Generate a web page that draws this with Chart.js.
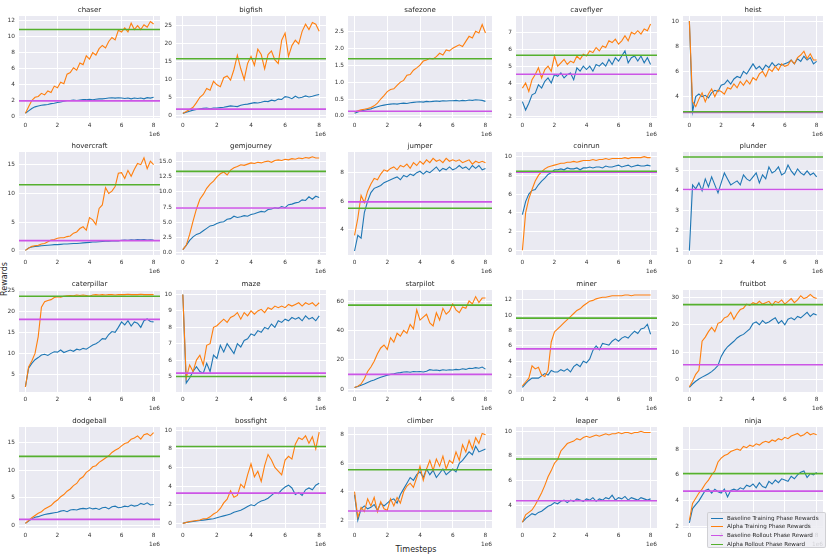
<!DOCTYPE html>
<html>
<head>
<meta charset="utf-8">
<script src="https://cdn.jsdelivr.net/npm/chart.js@4.4.0/dist/chart.umd.min.js"></script>
<style>
  html, body { margin: 0; padding: 0; background: #fff; }
  #fig { position: relative; width: 830px; height: 554px; overflow: hidden; font-family: 'DejaVu Sans', sans-serif; }
  .panel { position: absolute; }
  .axlabel { position: absolute; font-size: 8px; color: #262626; white-space: nowrap; }
  #ylab { left: 4px; top: 279px; transform: translate(-50%, -50%) rotate(-90deg); }
  #xlab { left: 416px; top: 549px; transform: translate(-50%, -50%); }
  #legend {
    position: absolute; left: 707px; top: 512px; width: 119px; height: 36px;
    background: rgba(236, 236, 242, 0.85); border: 1px solid rgba(205, 205, 210, 0.9);
    border-radius: 2px; box-sizing: border-box; padding-top: 0.5px; z-index: 10;
  }
  #legend .item { position: relative; height: 8.8px; line-height: 8.8px; font-size: 5.6px; color: #262626; white-space: nowrap; padding-left: 19px; }
  #legend .sw { position: absolute; left: 3px; top: 4px; width: 12px; height: 0; border-top-width: 1.5px; border-top-style: solid; }
</style>
</head>
<body>
<div id="fig">
  <div id="ylab" class="axlabel">Rewards</div>
  <div id="xlab" class="axlabel">Timesteps</div>
  <div id="legend">
    <div class="item"><span class="sw" style="border-top-color:#1f77b4"></span>Baseline Training Phase Rewards</div>
    <div class="item"><span class="sw" style="border-top-color:#ff7f0e"></span>Alpha Training Phase Rewards</div>
    <div class="item"><span class="sw" style="border-top-color:#cc55e6"></span>Baseline Rollout Phase Reward</div>
    <div class="item"><span class="sw" style="border-top-color:#55b02e"></span>Alpha Rollout Phase Reward</div>
  </div>
</div>
<script>
// timesteps in units of 1e6
const timesteps = [0, 0.2, 0.4, 0.6, 0.8, 1, 1.2, 1.4, 1.6, 1.8, 2, 2.2, 2.4, 2.6, 2.8, 3, 3.2, 3.4, 3.6, 3.8,
  4, 4.2, 4.4, 4.6, 4.8, 5, 5.2, 5.4, 5.6, 5.8, 6, 6.2, 6.4, 6.6, 6.8, 7, 7.2, 7.4, 7.6, 7.8, 8]
const xTickLabels = ['0', '2', '4', '6', '8']

const games = ['chaser', 'bigfish', 'safezone', 'caveflyer', 'heist',
  'hovercraft', 'gemjourney', 'jumper', 'coinrun', 'plunder',
  'caterpillar', 'maze', 'starpilot', 'miner', 'fruitbot',
  'dodgeball', 'bossfight', 'climber', 'leaper', 'ninja']

const chaserBase = [0.4, 0.7, 1.0, 1.2, 1.3, 1.4, 1.45, 1.5, 1.6, 1.65, 1.75, 1.8, 1.9, 2.0, 2.0, 2.05, 2.0, 2.05, 2.1, 2.1,
  2.15, 2.1, 2.15, 2.2, 2.2, 2.25, 2.3, 2.35, 2.3, 2.35, 2.3, 2.25, 2.3, 2.2, 2.3, 2.25, 2.3, 2.2, 2.35, 2.3, 2.4]
const chaserAlpha = [0.4, 1.2, 2.0, 2.4, 2.5, 2.9, 2.7, 3.2, 3.0, 3.8, 3.6, 4.3, 4.1, 5.3, 5.5, 6.1, 5.8, 6.7, 6.5, 7.6,
  7.2, 8.0, 7.7, 8.5, 8.9, 8.6, 9.4, 9.9, 9.6, 10.8, 10.6, 11.1, 10.6, 11.7, 10.9, 11.4, 10.9, 11.5, 11.2, 11.9, 11.6]

const bigfishBase = [0.5, 0.8, 1.1, 1.4, 1.6, 1.8, 1.9, 2.0, 1.8, 2.0, 2.0, 2.1, 2.2, 2.4, 2.6, 2.5, 2.4, 2.8, 3.0, 3.1,
  3.3, 3.5, 3.4, 3.6, 3.9, 3.8, 4.2, 4.0, 4.5, 4.4, 5.2, 5.0, 4.6, 5.3, 4.8, 5.0, 5.4, 5.1, 5.3, 5.6, 5.8]
const bigfishAlpha = [0.5, 1.0, 1.6, 2.2, 3.5, 5.0, 5.8, 7.5, 7.0, 9.5, 8.5, 8.0, 10.5, 11.0, 9.8, 12.8, 16.8, 13.0, 10.0, 14.5,
  16.5, 14.0, 18.5, 17.0, 13.0, 17.0, 18.0, 15.5, 14.5, 21.0, 23.0, 16.5, 19.5, 21.0, 20.0, 23.5, 25.5, 24.0, 26.0, 25.5, 23.5]

const safezoneBase = [0.08, 0.12, 0.15, 0.17, 0.19, 0.21, 0.24, 0.27, 0.3, 0.32, 0.34, 0.35, 0.36, 0.35, 0.37, 0.38, 0.37, 0.39, 0.4, 0.41,
  0.42, 0.41, 0.43, 0.42, 0.43, 0.44, 0.43, 0.45, 0.44, 0.45, 0.45, 0.46, 0.44, 0.46, 0.45, 0.47, 0.46, 0.48, 0.47, 0.46, 0.43]
const safezoneAlpha = [0.12, 0.15, 0.18, 0.2, 0.22, 0.25, 0.3, 0.38, 0.5, 0.6, 0.72, 0.78, 0.8, 0.9, 1.0, 1.05, 1.2, 1.22, 1.35, 1.42,
  1.5, 1.62, 1.65, 1.7, 1.68, 1.75, 1.85, 1.8, 1.95, 1.92, 2.0, 2.05, 2.1, 2.05, 2.2, 2.35, 2.3, 2.5, 2.45, 2.7, 2.45]

const caveflyerBase = [2.9, 2.4, 2.8, 3.3, 3.4, 3.9, 3.7, 4.1, 4.3, 4.0, 4.5, 4.4, 4.6, 4.3, 4.5, 4.6, 4.2, 4.9, 4.7, 5.0,
  4.8, 5.0, 4.7, 5.1, 5.0, 5.2, 5.0, 5.4, 5.1, 5.5, 5.3, 5.6, 5.9, 5.2, 5.5, 5.6, 5.3, 5.6, 5.2, 5.5, 5.1]
const caveflyerAlpha = [3.7, 4.0, 3.5, 4.2, 4.5, 4.9, 4.3, 4.8, 5.0, 4.7, 5.6, 5.0, 5.2, 5.4, 5.1, 5.3, 5.2, 5.6, 5.4, 5.7,
  5.6, 5.9, 5.8, 6.1, 5.9, 6.2, 6.1, 6.5, 6.4, 6.6, 6.3, 6.5, 6.8, 6.5, 7.0, 6.9, 7.1, 6.9, 7.2, 7.1, 7.5]

const heistBase = [10, 2.8, 4.0, 4.2, 4.0, 4.1, 3.9, 4.3, 4.5, 4.4, 4.9, 5.0, 5.3, 5.0, 5.4, 5.6, 5.5, 6.0, 5.8, 6.2,
  6.6, 6.2, 6.4, 6.1, 6.5, 6.3, 6.7, 6.4, 6.6, 6.5, 6.6, 6.7, 6.9, 6.6, 7.0, 6.8, 7.2, 6.9, 7.1, 6.6, 6.8]
const heistAlpha = [10, 3.6, 3.2, 3.8, 4.3, 3.6, 4.2, 4.6, 4.0, 4.5, 4.4, 4.2, 4.7, 4.6, 5.0, 4.7, 5.2, 4.9, 5.3, 5.0,
  5.5, 5.3, 5.8, 6.0, 5.6, 6.2, 6.0, 6.4, 6.1, 6.6, 6.4, 6.5, 6.9, 6.6, 7.1, 7.3, 7.6, 7.0, 7.4, 6.9, 6.9]

const hovercraftBase = [0.1, 0.5, 0.7, 0.8, 0.85, 0.9, 0.95, 1.0, 1.05, 1.1, 1.1, 1.15, 1.2, 1.2, 1.25, 1.3, 1.3, 1.35, 1.4, 1.45,
  1.5, 1.55, 1.55, 1.6, 1.65, 1.7, 1.7, 1.75, 1.8, 1.75, 1.85, 1.9, 1.85, 1.95, 1.9, 2.0, 1.95, 2.0, 1.9, 1.95, 1.9]
const hovercraftAlpha = [0.1, 0.5, 0.8, 0.9, 1.0, 1.2, 1.3, 1.6, 1.9, 2.0, 2.2, 2.3, 2.3, 2.5, 2.6, 3.1, 3.3, 3.9, 4.2, 3.6,
  5.8, 5.4, 4.6, 7.4, 8.0, 11.0, 10.0, 10.4, 11.2, 13.5, 13.6, 12.6, 14.0, 13.0, 14.2, 15.2, 15.0, 16.2, 14.3, 15.6, 15.0]

const gemjourneyBase = [0.5, 1.2, 2.0, 2.6, 3.0, 3.2, 3.6, 4.0, 4.4, 4.5, 4.8, 5.0, 5.1, 5.5, 5.6, 6.0, 5.8, 5.9, 6.1, 6.0,
  6.3, 6.4, 6.6, 6.8, 6.7, 7.1, 7.2, 7.4, 7.3, 7.6, 7.4, 7.9, 8.0, 8.2, 8.3, 8.7, 8.6, 9.2, 8.8, 9.3, 9.1]
const gemjourneyAlpha = [0.5, 1.2, 3.0, 5.2, 7.2, 8.8, 9.6, 10.6, 11.3, 11.8, 12.5, 13.0, 13.3, 12.8, 13.6, 14.0, 14.2, 14.5, 14.4, 14.6,
  14.8, 14.7, 14.9, 14.8, 15.0, 15.1, 14.9, 15.2, 15.3, 15.2, 15.4, 15.3, 15.5, 15.4, 15.6, 15.5, 15.7, 15.6, 15.8, 15.6, 15.6]

const jumperBase = [2.5, 3.6, 3.4, 5.2, 6.0, 6.6, 6.9, 7.0, 7.1, 7.3, 7.4, 7.5, 7.6, 7.7, 7.5, 7.8, 7.7, 7.9, 7.8, 8.0,
  8.1, 7.9, 8.1, 8.0, 8.2, 8.4, 8.1, 8.3, 8.2, 8.4, 8.2, 8.3, 8.5, 8.3, 8.4, 8.2, 8.5, 8.3, 8.5, 8.2, 8.3]
const jumperAlpha = [3.6, 4.8, 6.4, 5.9, 6.7, 7.2, 7.6, 7.5, 7.9, 8.2, 8.1, 8.3, 8.4, 8.2, 8.5, 8.4, 8.6, 8.3, 8.7, 8.5,
  8.8, 8.6, 8.9, 8.7, 9.0, 8.8, 8.9, 8.7, 9.0, 8.8, 8.9, 8.8, 8.9, 8.7, 8.8, 8.9, 8.6, 8.8, 8.7, 8.8, 8.7]

const coinrunBase = [3.8, 5.2, 6.0, 6.4, 6.5, 7.0, 7.4, 7.7, 8.1, 8.3, 8.6, 8.6, 8.7, 8.6, 8.8, 8.7, 8.7, 8.8, 8.6, 8.8,
  8.8, 8.9, 8.8, 8.9, 8.9, 8.8, 9.0, 8.9, 8.9, 9.0, 9.1, 8.9, 9.0, 9.1, 8.9, 9.0, 9.1, 9.0, 9.0, 9.1, 9.0]
const coinrunAlpha = [0, 4.0, 5.5, 6.5, 7.4, 8.0, 8.4, 8.7, 8.9, 9.0, 9.1, 9.2, 9.3, 9.3, 9.4, 9.4, 9.5, 9.4, 9.5, 9.6,
  9.6, 9.6, 9.7, 9.6, 9.7, 9.7, 9.8, 9.7, 9.8, 9.8, 9.8, 9.8, 9.9, 9.8, 9.9, 9.9, 9.9, 9.9, 10.0, 9.9, 9.9]

const plunderBase = [1.0, 4.3, 4.1, 4.4, 4.0, 4.6, 4.2, 4.7, 4.3, 3.9, 4.4, 4.9, 4.6, 4.3, 4.4, 4.5, 4.3, 4.8, 4.6, 4.5,
  4.7, 4.9, 4.4, 4.8, 4.6, 5.2, 4.9, 5.0, 5.2, 4.8, 4.9, 5.3, 5.0, 4.8, 5.1, 4.9, 4.8, 5.0, 4.8, 4.9, 4.7]
const plunderAlpha = []

const caterpillarBase = [2.0, 6.5, 7.6, 8.5, 9.0, 9.6, 9.8, 9.5, 10.0, 10.4, 10.3, 10.8, 10.2, 10.5, 10.8, 10.5, 11.0, 10.8, 11.2, 11.0,
  11.5, 12.0, 12.3, 12.8, 13.5, 13.4, 14.5, 15.2, 15.0, 16.2, 17.5, 16.8, 17.8, 16.5, 17.5, 17.2, 16.2, 17.8, 18.2, 17.6, 17.5]
const caterpillarAlpha = [2.0, 6.8, 8.2, 10.0, 14.0, 21.0, 22.3, 22.6, 22.8, 23.3, 23.5, 23.4, 23.6, 23.7, 23.8, 23.7, 23.9, 23.8, 23.9, 23.8,
  23.6, 23.9, 24.0, 23.9, 24.0, 23.9, 24.0, 24.0, 23.9, 24.0, 24.0, 24.0, 24.1, 24.0, 24.0, 24.0, 24.1, 24.0, 24.0, 24.0, 24.0]

const mazeBase = [10.0, 4.6, 4.9, 5.3, 5.6, 5.3, 5.2, 5.8, 5.3, 6.3, 6.1, 6.9, 6.5, 7.0, 6.7, 6.4, 7.0, 6.8, 7.2, 7.3,
  7.6, 7.5, 7.8, 7.7, 8.0, 7.9, 8.2, 8.0, 8.4, 8.3, 8.5, 8.4, 8.6, 8.5, 8.6, 8.4, 8.7, 8.5, 8.6, 8.4, 8.7]
const mazeAlpha = [10.0, 4.9, 5.7, 5.3, 6.0, 6.3, 5.7, 6.9, 7.0, 8.0, 8.1, 8.3, 8.5, 8.3, 8.6, 8.7, 8.9, 8.5, 8.9, 8.7,
  9.0, 8.8, 9.0, 9.1, 8.9, 9.2, 9.1, 9.3, 9.2, 9.3, 9.2, 9.4, 9.3, 9.4, 9.5, 9.3, 9.5, 9.4, 9.5, 9.3, 9.5]

const starpilotBase = [1.0, 1.8, 2.6, 3.5, 4.5, 5.5, 6.2, 7.2, 8.0, 8.8, 9.5, 10.0, 10.4, 11.0, 11.2, 11.6, 11.8, 11.5, 12.0, 11.8,
  12.0, 11.6, 12.2, 13.2, 12.8, 13.0, 12.6, 13.2, 12.8, 13.2, 13.0, 13.4, 13.2, 13.8, 13.4, 14.2, 14.0, 14.6, 14.2, 15.0, 13.6]
const starpilotAlpha = [1.0, 2.0, 3.5, 7.0, 12.0, 15.0, 19.0, 24.0, 28.0, 30.0, 27.0, 35.0, 32.0, 38.0, 36.0, 40.0, 38.0, 44.0, 41.0, 54.0,
  47.0, 49.0, 51.0, 45.0, 43.0, 52.0, 47.0, 55.0, 51.0, 53.0, 58.0, 54.0, 52.0, 56.0, 55.0, 60.0, 58.0, 63.0, 59.0, 62.0, 62.0]

const minerBase = [0.6, 1.1, 1.5, 1.8, 1.8, 1.8, 2.1, 2.4, 2.2, 2.8, 2.6, 2.6, 2.9, 2.7, 3.0, 2.6, 3.3, 3.6, 3.3, 4.0,
  3.8, 4.3, 5.4, 6.0, 5.5, 6.3, 6.2, 6.1, 6.6, 6.9, 6.6, 7.0, 7.2, 7.0, 7.5, 7.9, 7.6, 8.2, 8.3, 8.8, 7.5]
const minerAlpha = [0.8, 1.3, 1.8, 3.4, 3.0, 3.2, 2.2, 2.0, 2.8, 6.5, 7.8, 8.2, 8.6, 9.0, 9.4, 9.8, 10.2, 10.6, 10.8, 11.2,
  11.5, 11.8, 11.9, 12.1, 12.2, 12.3, 12.3, 12.4, 12.5, 12.5, 12.5, 12.5, 12.6, 12.6, 12.5, 12.6, 12.6, 12.6, 12.6, 12.6, 12.6]

const fruitbotBase = [-2.7, -1.5, -0.5, 0.3, 1.0, 1.6, 2.2, 3.0, 4.0, 5.2, 8.5, 10.5, 12.0, 13.0, 14.0, 15.2, 16.0, 16.5, 17.5, 18.5,
  20.5, 21.0, 20.0, 21.5, 20.5, 21.0, 21.8, 22.5, 20.5, 21.5, 20.0, 22.0, 22.5, 21.8, 23.0, 22.5, 23.5, 24.5, 23.0, 24.0, 23.5]
const fruitbotAlpha = [-2.5, -0.5, 2.0, 3.5, 14.0, 15.5, 17.5, 19.0, 17.5, 20.5, 21.0, 22.5, 23.0, 24.5, 22.0, 24.0, 25.5, 26.0, 27.5, 27.0,
  28.0, 27.5, 28.5, 27.5, 28.0, 28.5, 27.0, 28.5, 28.0, 29.0, 27.5, 28.5, 29.5, 28.0, 29.0, 30.5, 29.5, 30.0, 31.0, 30.0, 29.5]

const dodgeballBase = [0.4, 0.8, 1.2, 1.5, 1.6, 1.8, 2.0, 2.1, 2.2, 2.3, 2.4, 2.6, 2.7, 2.5, 2.8, 2.9, 2.8, 3.0, 3.1, 3.0,
  3.2, 3.0, 3.1, 2.9, 3.2, 3.3, 3.0, 3.4, 3.5, 3.2, 3.3, 3.5, 3.4, 3.7, 3.5, 3.6, 4.0, 3.8, 4.1, 3.7, 3.8]
const dodgeballAlpha = [0.4, 0.9, 1.4, 1.8, 2.2, 2.5, 3.0, 3.3, 3.6, 4.2, 4.6, 5.2, 5.6, 6.2, 6.6, 7.2, 7.6, 8.4, 8.8, 9.6,
  10.0, 10.6, 10.8, 11.4, 11.8, 12.2, 12.6, 13.2, 13.6, 13.9, 14.4, 14.8, 15.0, 15.6, 15.8, 16.2, 15.6, 16.4, 16.6, 16.2, 16.8]

const bossfightBase = [0.0, 0.1, 0.15, 0.2, 0.25, 0.3, 0.35, 0.4, 0.45, 0.5, 0.6, 0.7, 0.8, 0.9, 1.0, 1.2, 1.3, 1.4, 1.6, 1.8,
  2.0, 1.9, 2.2, 2.4, 2.5, 2.7, 3.0, 3.3, 3.2, 3.6, 3.9, 4.1, 3.8, 3.1, 3.3, 3.0, 3.6, 3.8, 3.6, 4.1, 4.3]
const bossfightAlpha = [0.0, 0.1, 0.2, 0.25, 0.3, 0.35, 0.5, 0.5, 0.7, 1.0, 1.2, 1.6, 2.2, 2.6, 3.5, 2.8, 3.0, 4.2, 3.8, 5.2,
  6.4, 5.0, 5.6, 4.5, 6.2, 7.4, 6.8, 6.0, 5.6, 5.2, 6.8, 7.2, 6.9, 8.5, 9.2, 9.0, 9.4, 8.6, 9.3, 8.0, 9.8]

const climberBase = [3.8, 2.0, 2.8, 3.0, 2.8, 2.9, 3.1, 2.7, 3.2, 3.0, 3.2, 3.4, 3.5, 3.2, 3.8, 4.2, 4.6, 5.0, 4.8, 5.2,
  5.4, 5.0, 5.6, 5.2, 5.5, 5.0, 5.3, 5.6, 5.2, 5.4, 5.6, 5.4, 6.0, 6.2, 6.5, 6.8, 6.6, 7.2, 6.8, 6.9, 7.0]
const climberAlpha = [4.0, 2.2, 2.9, 2.6, 3.5, 3.0, 3.6, 2.6, 3.3, 2.8, 2.7, 3.5, 3.0, 3.6, 3.2, 4.0, 4.4, 4.6, 4.3, 5.0,
  5.8, 4.8, 5.6, 6.2, 5.5, 6.3, 5.8, 6.5, 5.6, 6.2, 6.0, 6.8, 6.2, 7.3, 6.8, 7.6, 7.0, 7.8, 7.4, 8.1, 8.0]

const leaperBase = [2.6, 2.9, 3.1, 3.3, 3.2, 3.4, 3.5, 3.7, 3.9, 4.0, 4.2, 4.1, 4.3, 4.4, 4.2, 4.4, 4.3, 4.5, 4.4, 4.3,
  4.5, 4.4, 4.6, 4.3, 4.5, 4.4, 4.6, 4.5, 4.8, 4.4, 4.6, 4.5, 4.7, 4.4, 4.6, 4.5, 4.4, 4.6, 4.5, 4.4, 4.5]
const leaperAlpha = [2.6, 3.2, 3.4, 3.6, 4.0, 4.5, 5.0, 5.6, 6.3, 6.8, 7.4, 7.7, 8.4, 8.7, 9.0, 9.1, 9.2, 9.4, 9.3, 9.5,
  9.6, 9.5, 9.6, 9.7, 9.6, 9.7, 9.8, 9.7, 9.8, 9.8, 9.9, 9.8, 9.9, 9.9, 9.8, 9.9, 9.9, 10.0, 9.9, 9.9, 9.9]

const ninjaBase = [2.3, 3.4, 3.7, 4.0, 4.4, 4.8, 4.9, 4.6, 4.9, 4.7, 4.6, 4.9, 4.3, 4.8, 4.9, 4.8, 5.0, 4.9, 5.2, 5.1,
  5.3, 5.0, 5.4, 5.1, 5.0, 5.5, 5.3, 5.6, 5.4, 5.7, 5.6, 5.5, 5.9, 5.7, 6.0, 6.2, 6.3, 5.8, 6.1, 6.0, 6.2]
const ninjaAlpha = [2.5, 3.8, 4.2, 4.6, 4.9, 5.3, 5.6, 6.0, 6.3, 7.0, 7.3, 7.5, 7.6, 7.8, 7.9, 8.0, 7.9, 8.2, 8.1, 8.3,
  8.2, 8.4, 8.3, 8.5, 8.6, 8.5, 8.7, 8.6, 8.8, 8.7, 8.9, 8.8, 9.0, 9.1, 9.2, 9.0, 9.1, 9.3, 9.1, 9.2, 9.1]

const baselineTrain = [chaserBase, bigfishBase, safezoneBase, caveflyerBase, heistBase,
  hovercraftBase, gemjourneyBase, jumperBase, coinrunBase, plunderBase,
  caterpillarBase, mazeBase, starpilotBase, minerBase, fruitbotBase,
  dodgeballBase, bossfightBase, climberBase, leaperBase, ninjaBase]
const alphaTrain = [chaserAlpha, bigfishAlpha, safezoneAlpha, caveflyerAlpha, heistAlpha,
  hovercraftAlpha, gemjourneyAlpha, jumperAlpha, coinrunAlpha, plunderAlpha,
  caterpillarAlpha, mazeAlpha, starpilotAlpha, minerAlpha, fruitbotAlpha,
  dodgeballAlpha, bossfightAlpha, climberAlpha, leaperAlpha, ninjaAlpha]

// flat reference lines, one value per game
const baselineRollout = [1.95, 1.7, 0.14, 4.52, 2.74, 1.8, 7.35, 5.95, 8.35, 4.07,
  18.1, 5.2, 10.0, 5.6, 5.5, 1.1, 3.25, 2.65, 4.35, 4.75]
const alphaRollout = [10.9, 15.8, 1.69, 5.65, 2.8, 11.5, 13.4, 5.5, 8.45, 5.7,
  23.6, 5.0, 57.2, 9.6, 27.3, 12.5, 8.25, 5.55, 7.75, 6.1]

const yTickLabels = [
  ['0', '2', '4', '6', '8', '10', '12'],
  ['0', '5', '10', '15', '20', '25'],
  ['0.0', '0.5', '1.0', '1.5', '2.0', '2.5'],
  ['2', '3', '4', '5', '6', '7'],
  ['4', '6', '8', '10'],
  ['0', '5', '10', '15'],
  ['0.0', '2.5', '5.0', '7.5', '10.0', '12.5', '15.0'],
  ['4', '6', '8'],
  ['0', '2', '4', '6', '8', '10'],
  ['1', '2', '3', '4', '5'],
  ['5', '10', '15', '20', '25'],
  ['5', '6', '7', '8', '9', '10'],
  ['0', '20', '40', '60'],
  ['0', '2', '4', '6', '8', '10', '12'],
  ['0', '10', '20', '30'],
  ['0', '5', '10', '15'],
  ['0', '2', '4', '6', '8', '10'],
  ['2', '4', '6', '8'],
  ['4', '6', '8', '10'],
  ['2', '4', '6', '8'],
]

// axis limits (matplotlib-style 5% margins)
const yLimits = [
  [-0.2, 12.6], [-0.8, 27.8], [-0.06, 2.95], [1.93, 7.97], [2.3, 10.4],
  [-0.7, 17.2], [-0.4, 16.6], [2.22, 9.45], [-0.5, 10.5], [0.78, 5.95],
  [0.8, 25.1], [4.05, 10.28], [-2, 67.5], [0, 13.25], [-4.4, 32.6],
  [-0.45, 17.8], [-0.5, 10.35], [1.45, 8.55], [2.13, 10.35], [1.9, 9.7],
]
const xMin = -0.4, xMax = 8.4

// layout of the grid (plot areas in px)
const colLeft = [19, 176, 348, 516, 683]
const colRight = [160, 326, 492, 657, 823]
const rowTop = [16, 152, 290, 427]
const rowBottom = [118, 255, 392, 528]
const AXW = 24, AXH = 24, PADT = 14, PADR = 4

const C_BASE = '#1f77b4'
const C_ALPHA = '#ff7f0e'
const C_BROLL = '#cc55e6'
const C_AROLL = '#55b02e'
const tickFont = { family: 'DejaVu Sans', size: 5.8 }

const panelDeco = {
  id: 'panelDeco',
  beforeDraw(chart) {
    const { ctx, chartArea: a } = chart
    ctx.save()
    ctx.fillStyle = '#eaeaf2'
    ctx.fillRect(a.left, a.top, a.width, a.height)
    ctx.restore()
  },
  afterDraw(chart, args, opts) {
    const { ctx, chartArea: a } = chart
    ctx.save()
    ctx.fillStyle = '#262626'
    ctx.font = '7px "DejaVu Sans"'
    ctx.textAlign = 'center'
    ctx.textBaseline = 'middle'
    ctx.fillText(opts.title, (a.left + a.right) / 2, a.top - 6)
    ctx.restore()
  },
}

const pts = (arr) => arr.map((v, i) => ({ x: timesteps[i], y: v }))
const flat = (v) => [{ x: xMin, y: v }, { x: xMax, y: v }]

const fig = document.getElementById('fig')

games.forEach((name, k) => {
  const r = Math.floor(k / 5)
  const c = k % 5
  const box = document.createElement('div')
  box.className = 'panel'
  box.style.left = colLeft[c] - AXW + 'px'
  box.style.top = rowTop[r] - PADT + 'px'
  box.style.width = colRight[c] - colLeft[c] + AXW + PADR + 'px'
  box.style.height = rowBottom[r] - rowTop[r] + PADT + AXH + 'px'
  const cv = document.createElement('canvas')
  box.appendChild(cv)
  fig.insertBefore(box, document.getElementById('legend'))

  const yLabels = yTickLabels[k]
  const yValues = yLabels.map(Number)
  const xValues = xTickLabels.map(Number)

  new Chart(cv, {
    type: 'line',
    data: {
      datasets: [
        { data: pts(baselineTrain[k]), borderColor: C_BASE, borderWidth: 1.1, order: 4 },
        { data: pts(alphaTrain[k]), borderColor: C_ALPHA, borderWidth: 1.1, order: 3 },
        { data: flat(baselineRollout[k]), borderColor: C_BROLL, borderWidth: 1.6, order: 2 },
        { data: flat(alphaRollout[k]), borderColor: C_AROLL, borderWidth: 1.6, order: 1 },
      ],
    },
    options: {
      responsive: true,
      maintainAspectRatio: false,
      animation: false,
      devicePixelRatio: 1,
      layout: { padding: { top: PADT, right: PADR, left: 0, bottom: 0 } },
      elements: { point: { radius: 0 }, line: { tension: 0 } },
      plugins: {
        legend: { display: false },
        tooltip: { enabled: false },
        panelDeco: { title: name },
      },
      scales: {
        x: {
          type: 'linear',
          min: xMin,
          max: xMax,
          afterBuildTicks: (s) => { s.ticks = xValues.map((v) => ({ value: v })) },
          afterFit: (s) => { s.height = AXH },
          grid: { color: '#ffffff', lineWidth: 1, drawTicks: false },
          border: { display: false },
          ticks: {
            padding: 4, color: '#333', font: tickFont, maxRotation: 0, autoSkip: false,
            callback: (v, i) => xTickLabels[i],
          },
          title: {
            display: true, text: '1e6', align: 'end', color: '#333', font: tickFont,
            padding: { top: 0, bottom: 4 },
          },
        },
        y: {
          type: 'linear',
          min: yLimits[k][0],
          max: yLimits[k][1],
          afterBuildTicks: (s) => { s.ticks = yValues.map((v) => ({ value: v })) },
          afterFit: (s) => { s.width = AXW },
          grid: { color: '#ffffff', lineWidth: 1, drawTicks: false },
          border: { display: false },
          ticks: {
            padding: 4, color: '#333', font: tickFont, autoSkip: false,
            callback: (v, i) => yLabels[i],
          },
        },
      },
    },
    plugins: [panelDeco],
  })
})
</script>
</body>
</html>
